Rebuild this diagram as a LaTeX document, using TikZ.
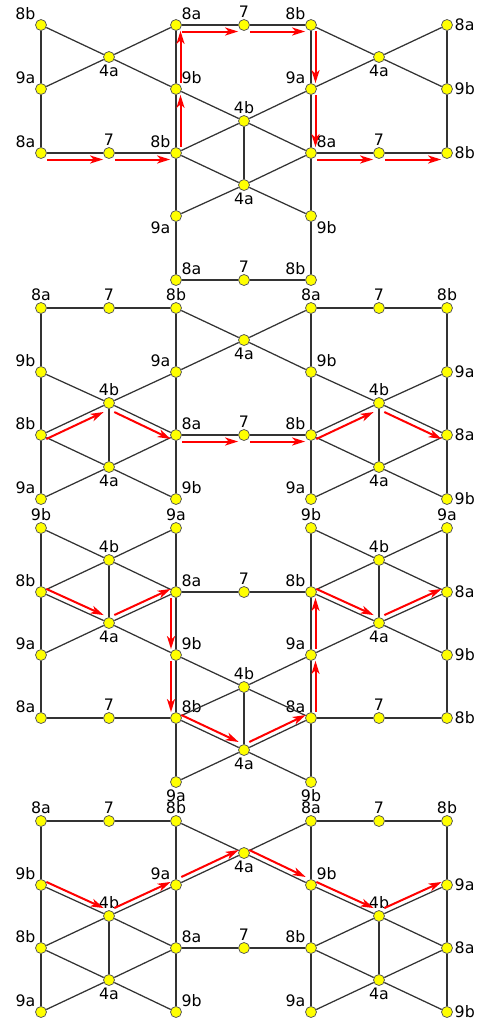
\documentclass[tikz,border=0pt]{standalone}
\usepackage{fontspec}
\setmainfont{DejaVu Sans}
\usepackage{xcolor}
\usepackage{tikz}
\usetikzlibrary{arrows.meta}
\definecolor{siteyellow}{HTML}{FFFF00}
\definecolor{bondgray}{HTML}{333333}
\definecolor{rimgray}{HTML}{555555}
\definecolor{hopred}{HTML}{FF0000}

\begin{document}
\begin{tikzpicture}[
  x=0.2mm, y=-0.2mm,
  label distance=0.3mm,
  every label/.style={font=\fontsize{9}{10}\selectfont, inner sep=0pt, text=black},
  site/.style={circle, draw=rimgray, line width=0.15mm, fill=siteyellow, inner sep=0pt, minimum size=2.2mm},
  bond/.style={draw=bondgray, line width=0.25mm},
  hop/.style={-{Stealth[length=2.6mm, width=1.6mm, inset=0.7mm]}, draw=hopred, line width=0.4mm},
  lo/.style={transform canvas={yshift=-1.3mm}},
  hi/.style={transform canvas={yshift=1.1mm}},
  rt/.style={transform canvas={xshift=0.9mm}},
  lf/.style={transform canvas={xshift=-1mm}}
]
\useasboundingbox (0,0) rectangle (477,1021);

\node[site, label=above left:8b] (a00) at (41,25) {};
\node[site, label=above left:9a] (a02) at (41,89) {};
\node[site, label=above left:8a] (a04) at (41,153) {};
\node[site, label=below:4a] (a11) at (109,57) {};
\node[site, label=above:7] (a14) at (109,153) {};
\node[site, label=above right:8a] (a20) at (176,25) {};
\node[site, label=above right:9b] (a22) at (176,89) {};
\node[site, label=above left:8b] (a24) at (176,153) {};
\node[site, label=below left:9a] (a26) at (176,216) {};
\node[site, label=above right:8a] (a28) at (176,280) {};
\node[site, label=above:7] (a30) at (244,25) {};
\node[site, label=above:4b] (a33) at (244,121) {};
\node[site, label=below:4a] (a35) at (244,185) {};
\node[site, label=above:7] (a38) at (244,280) {};
\node[site, label=above left:8b] (a40) at (311,25) {};
\node[site, label=above left:9a] (a42) at (311,89) {};
\node[site, label=above right:8a] (a44) at (311,153) {};
\node[site, label=below right:9b] (a46) at (311,216) {};
\node[site, label=above left:8b] (a48) at (311,280) {};
\node[site, label=below:4a] (a51) at (379,57) {};
\node[site, label=above:7] (a54) at (379,153) {};
\node[site, label=right:8a] (a60) at (447,25) {};
\node[site, label=right:9b] (a62) at (447,89) {};
\node[site, label=right:8b] (a64) at (447,153) {};

\node[site, label=above:8a] (b00) at (41,308) {};
\node[site, label=above:7] (b10) at (109,308) {};
\node[site, label=above:8b] (b20) at (176,308) {};
\node[site, label=below:4a] (b31) at (244,340) {};
\node[site, label=above:8a] (b40) at (311,308) {};
\node[site, label=above:7] (b50) at (379,308) {};
\node[site, label=above:8b] (b60) at (447,308) {};
\node[site, label=above left:9b] (b02) at (41,372) {};
\node[site, label=above left:9a] (b22) at (176,372) {};
\node[site, label=above right:9b] (b42) at (311,372) {};
\node[site, label=right:9a] (b62) at (447,372) {};
\node[site, label=above:4b] (b13) at (109,403) {};
\node[site, label=above:4b] (b53) at (379,403) {};
\node[site, label=above left:8b] (b04) at (41,435) {};
\node[site, label=above right:8a] (b24) at (176,435) {};
\node[site, label=above:7] (b34) at (244,435) {};
\node[site, label=above left:8b] (b44) at (311,435) {};
\node[site, label=right:8a] (b64) at (447,435) {};
\node[site, label=below:4a] (b15) at (109,467) {};
\node[site, label=below:4a] (b55) at (379,467) {};
\node[site, label=above left:9a] (b06) at (41,499) {};
\node[site, label=above right:9b] (b26) at (176,499) {};
\node[site, label=above left:9a] (b46) at (311,499) {};
\node[site, label=right:9b] (b66) at (447,499) {};

\node[site, label=above:9b] (c00) at (41,528) {};
\node[site, label=above:9a] (c20) at (176,528) {};
\node[site, label=above:9b] (c40) at (311,528) {};
\node[site, label=above:9a] (c60) at (447,528) {};
\node[site, label=above:4b] (c11) at (109,560) {};
\node[site, label=above:4b] (c51) at (379,560) {};
\node[site, label=above left:8b] (c02) at (41,592) {};
\node[site, label=above right:8a] (c22) at (176,592) {};
\node[site, label=above:7] (c32) at (244,592) {};
\node[site, label=above left:8b] (c42) at (311,592) {};
\node[site, label=right:8a] (c62) at (447,592) {};
\node[site, label=below:4a] (c13) at (109,623) {};
\node[site, label=below:4a] (c53) at (379,623) {};
\node[site, label=above left:9a] (c04) at (41,655) {};
\node[site, label=above right:9b] (c24) at (176,655) {};
\node[site, label=above left:9a] (c44) at (311,655) {};
\node[site, label=right:9b] (c64) at (447,655) {};
\node[site, label=above:4b] (c35) at (244,687) {};
\node[site, label=above left:8a] (c06) at (41,718) {};
\node[site, label=above:7] (c16) at (109,718) {};
\node[site, label=above right:8b] (c26) at (176,718) {};
\node[site, label=above left:8a] (c46) at (311,718) {};
\node[site, label=above:7] (c56) at (379,718) {};
\node[site, label=right:8b] (c66) at (447,718) {};
\node[site, label=below:4a] (c37) at (244,750) {};
\node[site, label=below:9a] (c28) at (176,782) {};
\node[site, label=below:9b] (c48) at (311,782) {};

\node[site, label=above:8a] (d00) at (41,821) {};
\node[site, label=above:7] (d10) at (109,821) {};
\node[site, label=above:8b] (d20) at (176,821) {};
\node[site, label=below:4a] (d31) at (244,853) {};
\node[site, label=above:8a] (d40) at (311,821) {};
\node[site, label=above:7] (d50) at (379,821) {};
\node[site, label=above:8b] (d60) at (447,821) {};
\node[site, label=above left:9b] (d02) at (41,885) {};
\node[site, label=above left:9a] (d22) at (176,885) {};
\node[site, label=above right:9b] (d42) at (311,885) {};
\node[site, label=right:9a] (d62) at (447,885) {};
\node[site, label=above:4b] (d13) at (109,916) {};
\node[site, label=above:4b] (d53) at (379,916) {};
\node[site, label=above left:8b] (d04) at (41,948) {};
\node[site, label=above right:8a] (d24) at (176,948) {};
\node[site, label=above:7] (d34) at (244,948) {};
\node[site, label=above left:8b] (d44) at (311,948) {};
\node[site, label=right:8a] (d64) at (447,948) {};
\node[site, label=below:4a] (d15) at (109,980) {};
\node[site, label=below:4a] (d55) at (379,980) {};
\node[site, label=above left:9a] (d06) at (41,1012) {};
\node[site, label=above right:9b] (d26) at (176,1012) {};
\node[site, label=above left:9a] (d46) at (311,1012) {};
\node[site, label=right:9b] (d66) at (447,1012) {};

\draw[bond] (a00) -- (a02) -- (a04);
\draw[bond] (a00) -- (a11) -- (a22);
\draw[bond] (a02) -- (a11) -- (a20);
\draw[bond] (a04) -- (a14) -- (a24);
\draw[bond] (a20) -- (a30) -- (a40);
\draw[bond] (a20) -- (a22) -- (a24) -- (a26) -- (a28);
\draw[bond] (a40) -- (a42) -- (a44) -- (a46) -- (a48);
\draw[bond] (a28) -- (a38) -- (a48);
\draw[bond] (a40) -- (a51) -- (a62);
\draw[bond] (a42) -- (a51) -- (a60);
\draw[bond] (a60) -- (a62) -- (a64);
\draw[bond] (a44) -- (a54) -- (a64);
\draw[bond] (a22) -- (a33) -- (a44);
\draw[bond] (a42) -- (a33) -- (a24);
\draw[bond] (a33) -- (a35);
\draw[bond] (a24) -- (a35) -- (a46);
\draw[bond] (a44) -- (a35) -- (a26);

\draw[bond] (b00) -- (b10) -- (b20);
\draw[bond] (b40) -- (b50) -- (b60);
\draw[bond] (b00) -- (b02) -- (b04) -- (b06);
\draw[bond] (b20) -- (b22) -- (b24) -- (b26);
\draw[bond] (b40) -- (b42) -- (b44) -- (b46);
\draw[bond] (b60) -- (b62) -- (b64) -- (b66);
\draw[bond] (b20) -- (b31) -- (b42);
\draw[bond] (b22) -- (b31) -- (b40);
\draw[bond] (b02) -- (b13) -- (b24);
\draw[bond] (b22) -- (b13) -- (b04);
\draw[bond] (b13) -- (b15);
\draw[bond] (b04) -- (b15) -- (b26);
\draw[bond] (b24) -- (b15) -- (b06);
\draw[bond] (b24) -- (b34) -- (b44);
\draw[bond] (b42) -- (b53) -- (b64);
\draw[bond] (b62) -- (b53) -- (b44);
\draw[bond] (b53) -- (b55);
\draw[bond] (b44) -- (b55) -- (b66);
\draw[bond] (b64) -- (b55) -- (b46);

\draw[bond] (c00) -- (c02) -- (c04) -- (c06);
\draw[bond] (c20) -- (c22) -- (c24) -- (c26) -- (c28);
\draw[bond] (c40) -- (c42) -- (c44) -- (c46) -- (c48);
\draw[bond] (c60) -- (c62) -- (c64) -- (c66);
\draw[bond] (c00) -- (c11) -- (c22);
\draw[bond] (c20) -- (c11) -- (c02);
\draw[bond] (c11) -- (c13);
\draw[bond] (c02) -- (c13) -- (c24);
\draw[bond] (c22) -- (c13) -- (c04);
\draw[bond] (c40) -- (c51) -- (c62);
\draw[bond] (c60) -- (c51) -- (c42);
\draw[bond] (c51) -- (c53);
\draw[bond] (c42) -- (c53) -- (c64);
\draw[bond] (c62) -- (c53) -- (c44);
\draw[bond] (c22) -- (c32) -- (c42);
\draw[bond] (c06) -- (c16) -- (c26);
\draw[bond] (c46) -- (c56) -- (c66);
\draw[bond] (c24) -- (c35) -- (c46);
\draw[bond] (c44) -- (c35) -- (c26);
\draw[bond] (c35) -- (c37);
\draw[bond] (c26) -- (c37) -- (c48);
\draw[bond] (c46) -- (c37) -- (c28);

\draw[bond] (d00) -- (d10) -- (d20);
\draw[bond] (d40) -- (d50) -- (d60);
\draw[bond] (d00) -- (d02) -- (d04) -- (d06);
\draw[bond] (d20) -- (d22) -- (d24) -- (d26);
\draw[bond] (d40) -- (d42) -- (d44) -- (d46);
\draw[bond] (d60) -- (d62) -- (d64) -- (d66);
\draw[bond] (d20) -- (d31) -- (d42);
\draw[bond] (d22) -- (d31) -- (d40);
\draw[bond] (d02) -- (d13) -- (d24);
\draw[bond] (d22) -- (d13) -- (d04);
\draw[bond] (d13) -- (d15);
\draw[bond] (d04) -- (d15) -- (d26);
\draw[bond] (d24) -- (d15) -- (d06);
\draw[bond] (d24) -- (d34) -- (d44);
\draw[bond] (d42) -- (d53) -- (d64);
\draw[bond] (d62) -- (d53) -- (d44);
\draw[bond] (d53) -- (d55);
\draw[bond] (d44) -- (d55) -- (d66);
\draw[bond] (d64) -- (d55) -- (d46);

\draw[hop, lo] (a04) -- (a14);
\draw[hop, lo] (a14) -- (a24);
\draw[hop, rt] (a24) -- (a22);
\draw[hop, rt] (a22) -- (a20);
\draw[hop, lo] (a20) -- (a30);
\draw[hop, lo] (a30) -- (a40);
\draw[hop, rt] (a40) -- (a42);
\draw[hop, rt] (a42) -- (a44);
\draw[hop, lo] (a44) -- (a54);
\draw[hop, lo] (a54) -- (a64);

\draw[hop, lo] (b04) -- (b13);
\draw[hop, lo] (b13) -- (b24);
\draw[hop, lo] (b24) -- (b34);
\draw[hop, lo] (b34) -- (b44);
\draw[hop, lo] (b44) -- (b53);
\draw[hop, lo] (b53) -- (b64);

\draw[hop, hi] (c02) -- (c13);
\draw[hop, hi] (c13) -- (c22);
\draw[hop, lf] (c22) -- (c24);
\draw[hop, lf] (c24) -- (c26);
\draw[hop, hi] (c26) -- (c37);
\draw[hop, hi] (c37) -- (c46);
\draw[hop, rt] (c46) -- (c44);
\draw[hop, rt] (c44) -- (c42);
\draw[hop, hi] (c42) -- (c53);
\draw[hop, hi] (c53) -- (c62);

\draw[hop, hi] (d02) -- (d13);
\draw[hop, hi] (d13) -- (d22);
\draw[hop, hi] (d22) -- (d31);
\draw[hop, hi] (d31) -- (d42);
\draw[hop, hi] (d42) -- (d53);
\draw[hop, hi] (d53) -- (d62);
\end{tikzpicture}
\end{document}
